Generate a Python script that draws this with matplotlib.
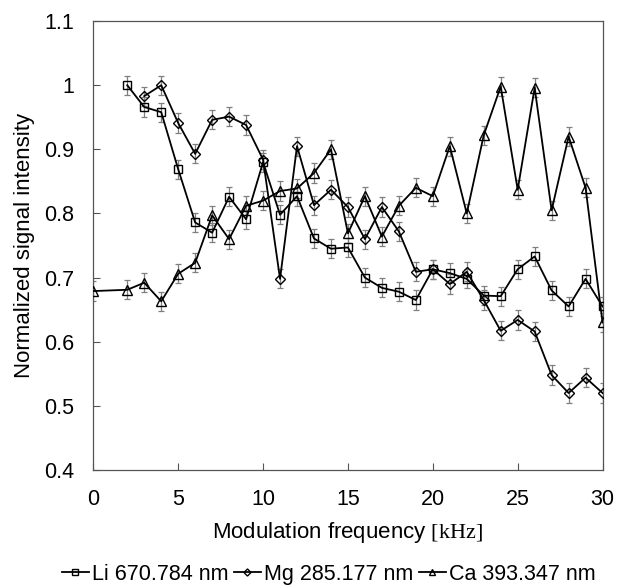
import matplotlib
matplotlib.use("Agg")
import matplotlib.pyplot as plt
from matplotlib.ticker import FuncFormatter

plt.rcParams['font.family'] = ['Liberation Sans', 'DejaVu Sans']
plt.rcParams['mathtext.fontset'] = 'custom'
plt.rcParams['mathtext.rm'] = 'Liberation Serif'

# modulation frequency, kHz
freq_li = list(range(2, 31))
freq_mg = list(range(3, 31))
freq_ca = [0] + list(range(2, 31))

li = [1.000, 0.966, 0.958, 0.869, 0.786, 0.770, 0.826, 0.791, 0.880, 0.798,
      0.827, 0.761, 0.745, 0.747, 0.700, 0.684, 0.678, 0.665, 0.713, 0.707,
      0.698, 0.672, 0.671, 0.713, 0.733, 0.680, 0.655, 0.698, 0.655]
mg = [0.983, 1.000, 0.941, 0.893, 0.946, 0.951, 0.938, 0.884, 0.698, 0.905,
      0.813, 0.837, 0.810, 0.760, 0.810, 0.772, 0.709, 0.713, 0.690, 0.709,
      0.665, 0.617, 0.634, 0.616, 0.548, 0.520, 0.544, 0.520]
ca = [0.679, 0.681, 0.692, 0.663, 0.706, 0.723, 0.797, 0.760, 0.812, 0.820,
      0.835, 0.839, 0.863, 0.900, 0.769, 0.827, 0.764, 0.812, 0.840, 0.827,
      0.905, 0.800, 0.922, 0.998, 0.837, 0.996, 0.805, 0.920, 0.840, 0.630]
err = 0.015

labels = ["Li 670.784 nm", "Mg 285.177 nm", "Ca 393.347 nm"]

fig = plt.figure(figsize=(6.18, 5.86), dpi=100)
ax = fig.add_axes([0.151, 0.198, 0.824, 0.766])

series = [(freq_li, li, 's', 5.3), (freq_mg, mg, 'D', 4.8), (freq_ca, ca, '^', 6.6)]
handles = []
for (xs, ys, mk, ms), lab in zip(series, labels):
    ax.errorbar(xs, ys, yerr=err, fmt='none', ecolor='#7f7f7f',
                elinewidth=0.9, capsize=2.4, capthick=0.9, zorder=2)
    h, = ax.plot(xs, ys, color='black', lw=1.3, marker=mk, ms=ms,
                 mfc='none', mec='black', mew=1.0, label=lab, zorder=3)
    handles.append(h)

ax.set_xlim(0, 30)
ax.set_ylim(0.4, 1.1)
ax.set_xticks(range(0, 31, 5))
ax.set_yticks([0.4, 0.5, 0.6, 0.7, 0.8, 0.9, 1.0, 1.1])
ax.yaxis.set_major_formatter(FuncFormatter(lambda v, p: f"{v:g}"))
ax.tick_params(direction='in', length=5, width=0.8, color='#555555',
               labelsize=15.5, pad=14)
for s in ax.spines.values():
    s.set_color('#555555')
    s.set_linewidth(0.9)

ax.set_xlabel(r"Modulation frequency $[\mathrm{kHz}]$", fontsize=16, labelpad=7)
ax.set_ylabel("Normalized signal intensity", fontsize=16, labelpad=6)

fig.legend(handles=handles, labels=labels, loc='center', ncol=3,
           bbox_to_anchor=(0.532, 0.02), frameon=False, fontsize=15.5,
           handlelength=1.25, handletextpad=0.15, columnspacing=0.25,
           markerscale=0.75, borderpad=0)

fig.savefig("out.png", dpi=100)
